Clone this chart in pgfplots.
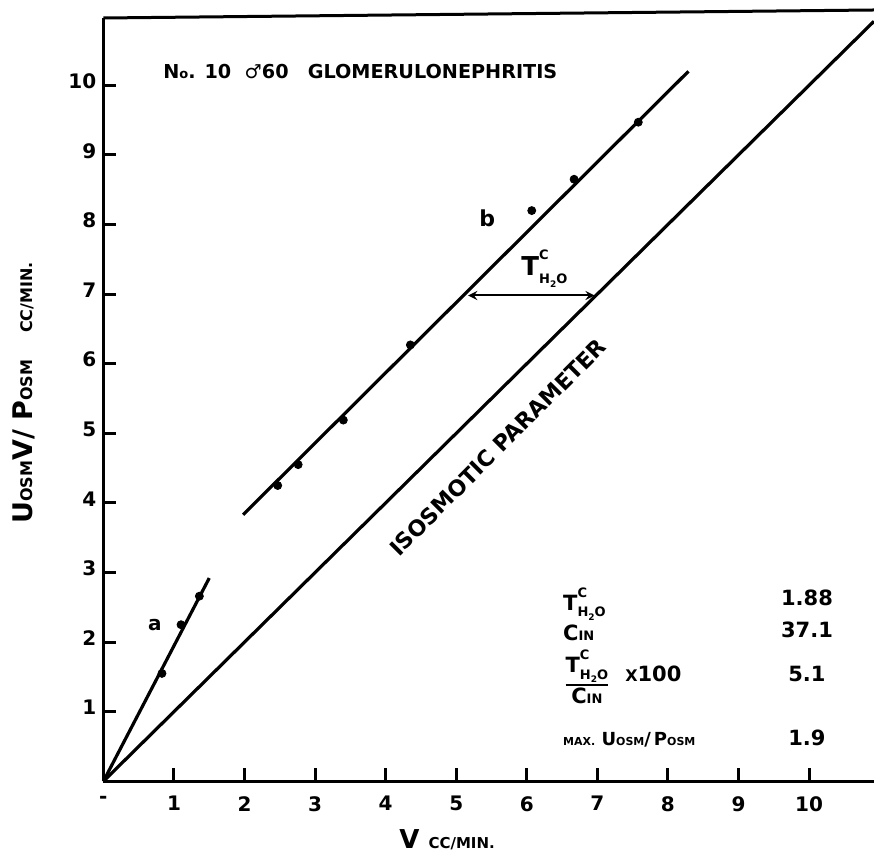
\documentclass[border=0pt]{standalone}
\usepackage{fontspec}
\setmainfont{DejaVu Sans}
\usepackage{pgfplots}
\pgfplotsset{compat=1.18}

% small capitals used as subscripts (OSM, IN, CC/MIN.)
\newcommand{\sm}[1]{{\fontsize{6.5}{6.5}\selectfont #1}}
\newcommand{\Tc}{T\rlap{\raisebox{0.62em}{\sm{C}}}\raisebox{-0.32em}{\sm{H\raisebox{-0.25em}{\fontsize{4.5}{4.5}\selectfont 2}O}}}

\begin{document}
\bfseries
\begin{tikzpicture}
\begin{axis}[
  scale only axis,
  width=385.3pt, height=381.65pt,
  xmin=0, xmax=10.92, ymin=0, ymax=10.967,
  axis x line=bottom, axis y line=left,
  axis line style={-, line width=1.5pt},
  xtick={0,1,2,3,4,5,6,7,8,9,10},
  xticklabels={-,1,2,3,4,5,6,7,8,9,10},
  ytick={1,2,3,4,5,6,7,8,9,10},
  tick align=inside,
  major tick length=6.5pt,
  tick style={line width=1.5pt, black},
  /pgf/number format/assume math mode=true,
  tick label style={font=\fontsize{10}{10}\selectfont\bfseries},
  x tick label style={yshift=-4pt},
  y tick label style={yshift=2pt},
  clip=false,
]
% isosmotic parameter
\addplot[black, line width=1.6pt] coordinates {(0,0) (10.92,10.92)};
% line a
\addplot[black, line width=1.6pt] coordinates {(0,0) (1.50,2.92)};
% line b
\addplot[black, line width=1.6pt] coordinates {(1.98,3.83) (8.29,10.20)};
\addplot[only marks, mark=*, mark size=2pt, black] coordinates {
  (0.83,1.55) (1.10,2.25) (1.36,2.66)};
\addplot[only marks, mark=*, mark size=2pt, black] coordinates {
  (2.47,4.25) (2.76,4.55) (3.40,5.19) (4.35,6.27)
  (6.07,8.20) (6.67,8.65) (7.58,9.47)};

% top of the frame, slightly slanted
\draw[line width=1.5pt] (rel axis cs:0,1) -- (rel axis cs:1,1.0105);

\draw[line width=1pt, <->, >=stealth] (axis cs:5.17,6.98) -- (axis cs:6.96,6.98);
\node[font=\fontsize{13}{13}\selectfont\bfseries] at (axis cs:6.25,7.37) {\Tc};
\node[font=\fontsize{10}{10}\selectfont\bfseries] at (axis cs:0.73,2.25) {a};
\node[font=\fontsize{11}{11}\selectfont\bfseries] at (axis cs:5.44,8.09) {b};
\node[rotate=45, font=\fontsize{11}{11}\selectfont\bfseries] at (axis cs:5.59,4.80) {ISOSMOTIC PARAMETER};

\node[anchor=west, inner sep=0pt, font=\fontsize{9.6}{9.6}\selectfont\bfseries]
  at (axis cs:0.845,10.2) {N\sm{o}. 10\ \ ♂60\quad GLOMERULONEPHRITIS};

% summary table
\begin{scope}[every node/.style={inner sep=0pt, font=\fontsize{10.5}{10.5}\selectfont\bfseries}]
\node[anchor=base west] at (axis cs:6.51,2.46) {\Tc};
\node[anchor=base] at (axis cs:9.97,2.53) {1.88};
\node[anchor=base west] at (axis cs:6.51,2.03) {C\sm{IN}};
\node[anchor=base] at (axis cs:9.97,2.06) {37.1};
\node[anchor=west] at (axis cs:6.51,1.50) {$\hbox{\Tc}\above 1pt\hbox{C\sm{IN}}$};
\node[anchor=base west] at (axis cs:7.39,1.43) {{\fontsize{8}{8}\selectfont X}100};
\node[anchor=base] at (axis cs:9.97,1.43) {5.1};
\node[anchor=base west, font=\fontsize{9}{9}\selectfont\bfseries] at (axis cs:6.51,0.52)
  {{\fontsize{5.5}{5.5}\selectfont MAX.}\ U{\fontsize{5.5}{5.5}\selectfont OSM}/\,P{\fontsize{5.5}{5.5}\selectfont OSM}};
\node[anchor=base] at (axis cs:9.97,0.52) {1.9};
\end{scope}

% axis titles
\node[rotate=90, font=\fontsize{13.5}{13.5}\selectfont\bfseries] at (axis cs:-1.12,5.58)
  {U{\fontsize{8}{8}\selectfont OSM}V/ P{\fontsize{8}{8}\selectfont OSM}\quad{\fontsize{8}{8}\selectfont CC/MIN.}};
\node[font=\fontsize{13}{13}\selectfont\bfseries] at (axis cs:4.87,-0.84)
  {V {\fontsize{7.5}{7.5}\selectfont CC/MIN.}};
\end{axis}
\pgfresetboundingbox
\path (-51.7pt,-35.85pt) rectangle (385.3pt,390.65pt);
\end{tikzpicture}
\end{document}
